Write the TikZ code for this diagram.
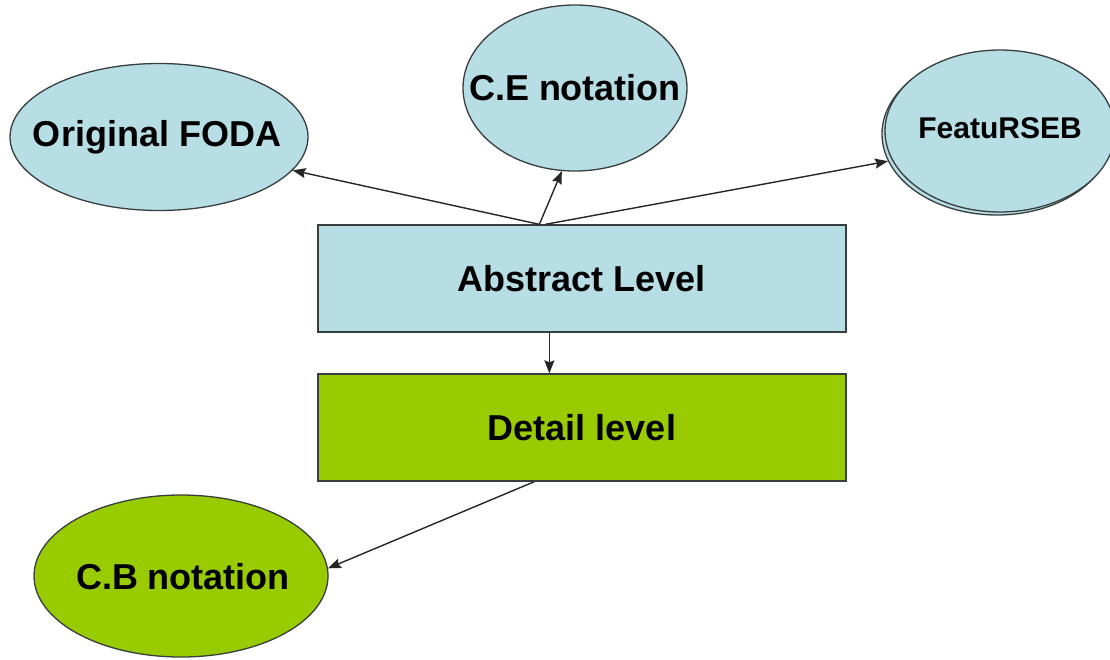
\documentclass[tikz,border=0pt]{standalone}
\usepackage{fontspec}
\setmainfont{Liberation Sans}
\usetikzlibrary{shapes.geometric,arrows.meta,calc}
\definecolor{paleblue}{RGB}{183,222,228}
\definecolor{limegreen}{RGB}{153,204,0}
\definecolor{edgegray}{RGB}{55,62,62}
\tikzset{
  bubble/.style={ellipse, draw=edgegray, line width=1.3pt, inner sep=0pt},
  caption/.style={font=\fontsize{36}{40}\selectfont\bfseries, text=black, inner sep=0pt},
  levelbox/.style={rectangle, draw=edgegray, line width=1.3pt, inner sep=0pt,
    minimum width=528pt, minimum height=107pt,
    font=\fontsize{36}{40}\selectfont\bfseries, text=black},
  arr/.style={draw=black!85, line width=1.4pt, -{Stealth[length=13pt,width=10pt,inset=2pt]}}
}
\begin{document}
\begin{tikzpicture}[x=1pt,y=-1pt]
  \useasboundingbox (0,0) rectangle (1110,659);
  \fill[white] (0,0) rectangle (1110,659);

  % upper level: notations of the abstract view
  \node[bubble, fill=paleblue, minimum width=298pt, minimum height=147pt] (foda) at (159,137) {};
  \node[caption] (fodatext) at (157,137) {Original FODA};
  \node[bubble, fill=paleblue, minimum width=224pt, minimum height=166pt] (ce) at (575,88) {};
  \node[caption] (cetext) at (575,88) {C.E notation};
  \node[bubble, fill=paleblue, minimum width=230pt, minimum height=162pt] (featback) at (997,134) {};
  \node[bubble, fill=paleblue, minimum width=230pt, minimum height=162pt] (feat) at (1000,131) {};
  \node[caption, font=\fontsize{30}{34}\selectfont\bfseries] (feattext) at (1000,128) {FeatuRSEB};

  % the two levels
  \node[levelbox, fill=paleblue] (abs) at (582,278.5) {Abstract Level};
  \node[levelbox, fill=limegreen] (det) at (582,427.5) {Detail level};

  % lower level
  \node[bubble, fill=limegreen, minimum width=294pt, minimum height=162pt] (cb) at (181,576) {};
  \node[caption] (cbtext) at (183,577) {C.B notation};

  % connection points on the boxes
  \coordinate (hub) at ($(abs.north west)+(222,0)$);
  \coordinate (absout) at ($(abs.south west)+(232,0)$);
  \coordinate (detout) at ($(det.south west)+(217,0)$);

  % connectors
  \draw[arr] (hub) -- (foda.346);
  \draw[arr] (hub) -- (ce.261);
  \draw[arr] ($(hub)+(6,0)$) -- (featback.194);
  \draw[arr] (absout) -- (absout |- det.north);
  \draw[arr] (detout) -- (cb.3);
\end{tikzpicture}
\end{document}
